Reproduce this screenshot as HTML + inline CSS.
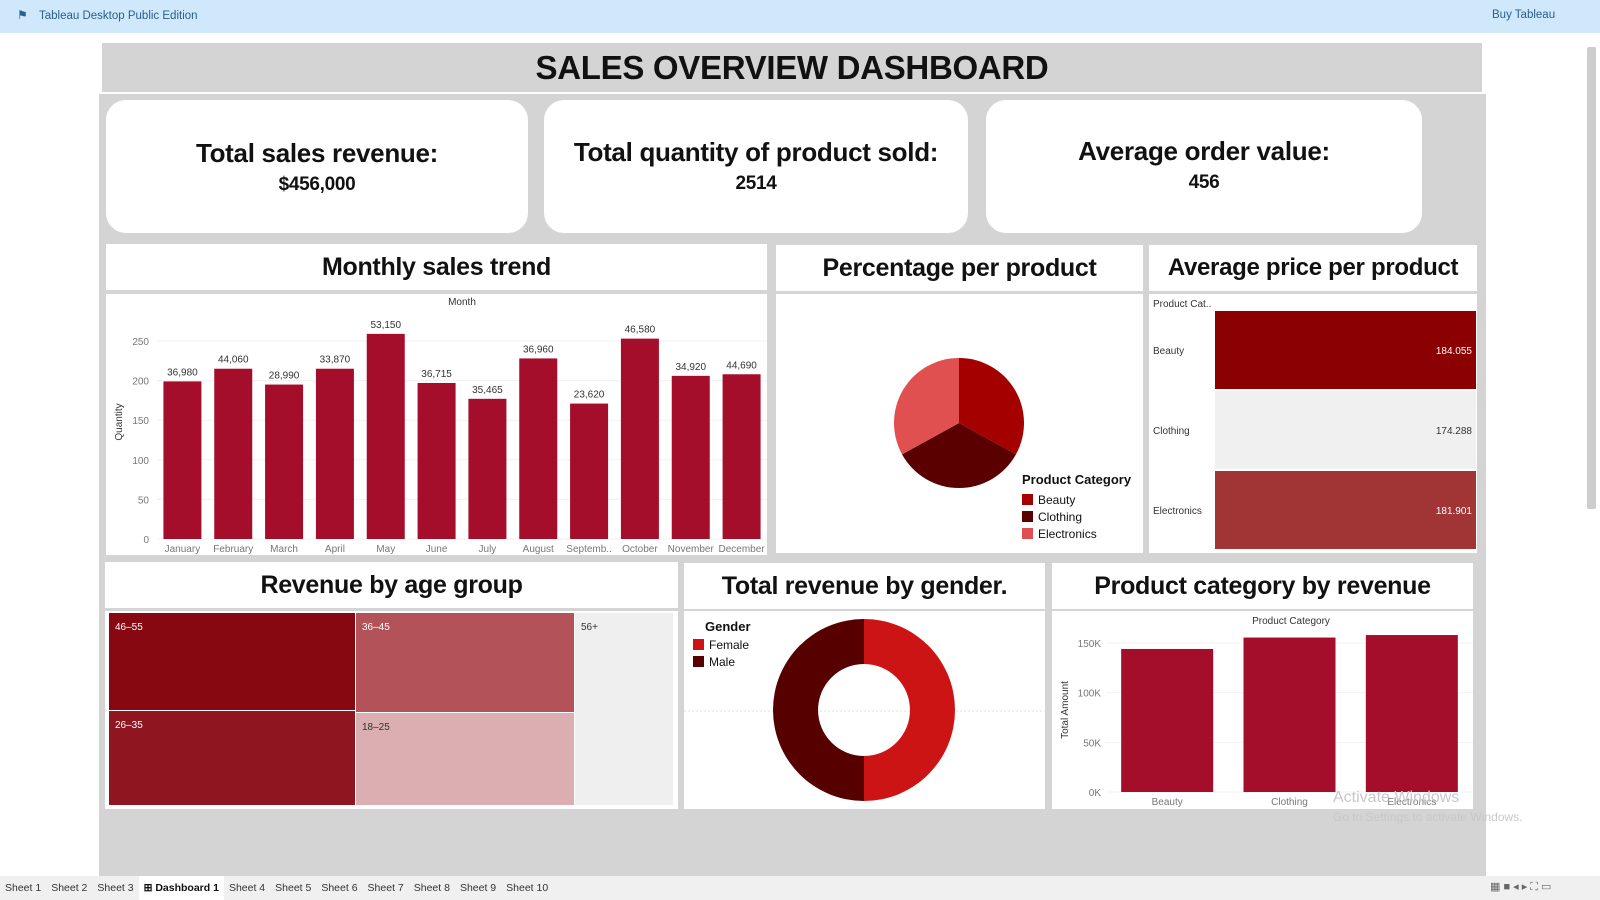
<!DOCTYPE html>
<html><head><meta charset="utf-8">
<style>
*{box-sizing:border-box;margin:0;padding:0}
body{width:1600px;height:900px;overflow:hidden;background:#fff;font-family:"Liberation Sans",sans-serif;position:relative}
.abs{position:absolute}
.title{position:absolute;background:#fff;font-weight:bold;font-size:25px;text-align:center;color:#111;white-space:nowrap;letter-spacing:-0.3px}
.kpi{position:absolute;background:#fff;border-radius:20px;text-align:center;font-weight:bold;color:#111;white-space:nowrap;letter-spacing:-0.3px}
.panel{position:absolute;background:#fff}
.tab{display:inline-block;font-size:10.5px;color:#333;padding:0 5px;line-height:24px}
</style></head><body>
<div class="abs" style="left:0;top:0;width:1600px;height:33px;background:#cfe8fb">
  <span class="abs" style="left:17px;top:8px;font-size:12px;color:#2a5e8c">⚑</span>
  <span class="abs" style="left:39px;top:10px;font-size:11.5px;color:#2a5e8c">Tableau Desktop Public Edition</span>
  <span class="abs" style="left:1492px;top:9px;font-size:11.5px;color:#2a5e8c">Buy Tableau</span>
</div>
<div class="abs" style="left:1583px;top:33px;width:17px;height:843px;background:#fff">
  <div class="abs" style="left:4px;top:14px;width:9px;height:462px;background:#cdcdcd;border-radius:2px"></div>
</div>
<div class="abs" style="left:99px;top:94px;width:1387px;height:782px;background:#d4d4d4"></div>
<div class="abs" style="left:102px;top:43px;width:1380px;height:49px;background:#d4d4d4;font-weight:bold;font-size:33px;text-align:center;line-height:50px;color:#111;letter-spacing:-0.3px">SALES OVERVIEW DASHBOARD</div>

<div class="kpi" style="left:106px;top:100px;width:422px;height:133px"><div style="font-size:26px;margin-top:38px">Total sales revenue:</div><div style="font-size:19px;margin-top:5px">$456,000</div></div>
<div class="kpi" style="left:544px;top:100px;width:424px;height:133px"><div style="font-size:26px;margin-top:37px">Total quantity of product sold:</div><div style="font-size:19px;margin-top:5px">2514</div></div>
<div class="kpi" style="left:986px;top:100px;width:436px;height:133px"><div style="font-size:26px;margin-top:36px">Average order value:</div><div style="font-size:19px;margin-top:5px">456</div></div>

<div class="title" style="left:106px;top:244px;width:661px;height:46px;line-height:46px">Monthly sales trend</div>
<div class="panel" style="left:106px;top:294px;width:661px;height:261px"></div>
<div class="title" style="left:776px;top:245px;width:367px;height:46px;line-height:46px">Percentage per product</div>
<div class="panel" style="left:776px;top:294px;width:367px;height:259px"></div>
<div class="title" style="left:1149px;top:245px;width:328px;height:46px;line-height:46px;font-size:24px">Average price per product</div>
<div class="panel" style="left:1149px;top:294px;width:328px;height:259px"></div>
<div class="title" style="left:105px;top:562px;width:573px;height:46px;line-height:46px">Revenue by age group</div>
<div class="panel" style="left:105px;top:611px;width:573px;height:198px"></div>
<div class="title" style="left:684px;top:563px;width:361px;height:46px;line-height:46px">Total revenue by gender.</div>
<div class="panel" style="left:684px;top:611px;width:361px;height:198px"></div>
<div class="title" style="left:1052px;top:563px;width:421px;height:46px;line-height:46px">Product category by revenue</div>
<div class="panel" style="left:1052px;top:611px;width:421px;height:198px"></div>

<svg id="svg" class="abs" style="left:0;top:0" width="1600" height="900" font-family="Liberation Sans, sans-serif"></svg>

<div class="abs" style="left:1333px;top:789px;color:#c8c8c8;font-size:16px">Activate Windows</div>
<div class="abs" style="left:1333px;top:810px;color:#c8c8c8;font-size:12px">Go to Settings to activate Windows.</div>

<div class="abs" style="left:0;top:876px;width:1600px;height:24px;background:#f0f0f0">
<span class="tab">Sheet 1</span><span class="tab">Sheet 2</span><span class="tab">Sheet 3</span><span class="tab" style="background:#fff;font-weight:bold;color:#111">⊞ Dashboard 1</span><span class="tab">Sheet 4</span><span class="tab">Sheet 5</span><span class="tab">Sheet 6</span><span class="tab">Sheet 7</span><span class="tab">Sheet 8</span><span class="tab">Sheet 9</span><span class="tab">Sheet 10</span>
<span class="abs" style="left:1490px;top:4px;font-size:11px;color:#666">▦ ■ ◂ ▸ ⛶ ▭</span>
</div>

<script>
const months=["January","February","March","April","May","June","July","August","Septemb..","October","November","December"];
const monthQty=[199,215,195,215,259,197,177,228,171,253,206,208];
const monthSales=["36,980","44,060","28,990","33,870","53,150","36,715","35,465","36,960","23,620","46,580","34,920","44,690"];
const qtyTicks=[0,50,100,150,200,250];
const pieCats=["Beauty","Clothing","Electronics"];
const pieShares=[0.33,0.34,0.33];
const pieColors=["#a50000","#5a0000","#e05050"];
const priceCats=["Beauty","Clothing","Electronics"];
const priceVals=[184.055,174.288,181.901];
const ageGroups=["46-55","26-35","36-45","18-25","56+"];
const genders=["Female","Male"];
const genderShares=[0.5,0.5];
const catNames=["Beauty","Clothing","Electronics"];
const catRevenue=[144000,155500,158000];
const revTicks=[0,50000,100000,150000];

const svg=document.getElementById('svg');
const NS='http://www.w3.org/2000/svg';
function mk(tag,attrs,name,txt){const e=document.createElementNS(NS,tag);for(const k in attrs)e.setAttribute(k,attrs[k]);


if(txt!==undefined)e.textContent=txt;svg.appendChild(e);return e;}

// Monthly bar chart
const mX0=157,mX1=767,mY0=539,mY250=341;
const my=v=>mY0-(v/250)*(mY0-mY250);
const slot=(mX1-mX0)/months.length;
mk('text',{x:462,y:305,'font-size':10,'text-anchor':'middle',fill:'#333'},'x-axis-title','Month');
mk('text',{x:122,y:422,'font-size':10,fill:'#333',transform:'rotate(-90 122 422)','text-anchor':'middle'},'y-axis-title','Quantity');
qtyTicks.forEach(t=>{mk('line',{x1:mX0,x2:mX1,y1:my(t),y2:my(t),stroke:'#f0f0f0'},'gridline');
mk('text',{x:149,y:my(t)+4,'font-size':10,'text-anchor':'end',fill:'#777'},'y-tick',String(t));});
months.forEach((m,i)=>{const cx=mX0+slot*(i+0.5);
mk('rect',{x:cx-19,y:my(monthQty[i]),width:38,height:mY0-my(monthQty[i]),fill:'#a50e2a'},'bar-'+i);
mk('text',{x:cx,y:my(monthQty[i])-6,'font-size':10,'text-anchor':'middle',fill:'#333'},'bar-label',monthSales[i]);
mk('text',{x:cx,y:552,'font-size':10,'text-anchor':'middle',fill:'#777'},'x-tick',m);});

// Pie
const pcx=959,pcy=423,pr=65;let a0=0;
pieShares.forEach((s,i)=>{const a1=a0+s*2*Math.PI;
const p=(a)=>[pcx+pr*Math.sin(a),pcy-pr*Math.cos(a)];const[x0,y0]=p(a0),[x1,y1]=p(a1);
mk('path',{d:`M${pcx},${pcy}L${x0},${y0}A${pr},${pr} 0 ${s>0.5?1:0} 1 ${x1},${y1}Z`,fill:pieColors[i]},'pie-slice-'+pieCats[i].toLowerCase());a0=a1;});
mk('text',{x:1022,y:484,'font-size':13,'font-weight':'bold',fill:'#111'},'pie-legend-title','Product Category');
pieCats.forEach((c,i)=>{mk('rect',{x:1022,y:494+i*17,width:11,height:11,fill:pieColors[i]},'pie-legend-swatch');
mk('text',{x:1038,y:504+i*17,'font-size':12,fill:'#111'},'pie-legend-label',c);});

// Avg price rows
mk('text',{x:1153,y:307,'font-size':10,fill:'#333'},'avg-price-header','Product Cat..');
const pmin=Math.min(...priceVals),pmax=Math.max(...priceVals);
const shade=v=>{const t=(v-pmin)/(pmax-pmin);const c0=[240,240,240],c1=[139,0,0];return `rgb(${c0.map((c,j)=>Math.round(c+(c1[j]-c)*t)).join(',')})`;};
priceCats.forEach((c,i)=>{const y=311+i*80;
mk('rect',{x:1215,y:y,width:261,height:78,fill:shade(priceVals[i])},'price-bar-'+c.toLowerCase());
mk('text',{x:1153,y:y+43,'font-size':10,fill:'#333'},'price-row-label',c);
mk('text',{x:1472,y:y+43,'font-size':10,'text-anchor':'end',fill:(priceVals[i]-pmin)/(pmax-pmin)>0.5?'#fff':'#333'},'price-value',priceVals[i].toFixed(3));});

// Treemap
const tm=[[109,613,246,97,'#880812'],[109,711,246,94,'#8f1520'],[356,613,218,99,'#b4525a'],[356,713,218,92,'#dbaeb1'],[575,613,98,192,'#efefef']];
tm.forEach((r,i)=>{mk('rect',{x:r[0],y:r[1],width:r[2],height:r[3],fill:r[4]},'treemap-'+ageGroups[i]);
mk('text',{x:r[0]+6,y:r[1]+17,'font-size':10,fill:i>=3?'#333':'#fff'},'treemap-label',ageGroups[i].replace('-','–'));});

// Donut
const dcx=864,dcy=710,ro=91,ri=46;let b0=0;const gc=['#cc1414','#560000'];
mk('line',{x1:684,x2:1045,y1:711,y2:711,stroke:'#ddd','stroke-dasharray':'2,2'},'ref-line');
genderShares.forEach((s,i)=>{const b1=b0+s*2*Math.PI;const P=(r,a)=>[dcx+r*Math.sin(a),dcy-r*Math.cos(a)];
const[a,b]=P(ro,b0),[c,d]=P(ro,b1),[e,f]=P(ri,b1),[g,h]=P(ri,b0);const lg=s>0.5?1:0;
mk('path',{d:`M${a},${b}A${ro},${ro} 0 ${lg} 1 ${c},${d}L${e},${f}A${ri},${ri} 0 ${lg} 0 ${g},${h}Z`,fill:gc[i]},'donut-'+genders[i].toLowerCase());b0=b1;});
mk('text',{x:705,y:631,'font-size':13,'font-weight':'bold',fill:'#111'},'gender-legend-title','Gender');
genders.forEach((g,i)=>{mk('rect',{x:693,y:639+i*17,width:11,height:11,fill:gc[i]},'gender-swatch');
mk('text',{x:709,y:649+i*17,'font-size':12,fill:'#111'},'gender-legend-label',g);});

// Category revenue
const cY0=792,cY150=643,cy=v=>cY0-(v/150000)*(cY0-cY150);
mk('text',{x:1291,y:624,'font-size':10,'text-anchor':'middle',fill:'#333'},'cat-x-title','Product Category');
mk('text',{x:1068,y:710,'font-size':10,fill:'#333',transform:'rotate(-90 1068 710)','text-anchor':'middle'},'cat-y-title','Total Amount');
revTicks.forEach(t=>{mk('line',{x1:1106,x2:1473,y1:cy(t),y2:cy(t),stroke:'#f2f2f2'},'cat-gridline');
mk('text',{x:1101,y:cy(t)+4,'font-size':10,'text-anchor':'end',fill:'#777'},'cat-y-tick',(t/1000)+'K');});
const cs=(1473-1106)/catNames.length;
catNames.forEach((c,i)=>{const cx=1106+cs*(i+0.5);
mk('rect',{x:cx-46,y:cy(catRevenue[i]),width:92,height:cY0-cy(catRevenue[i]),fill:'#a50e2a'},'cat-bar-'+c.toLowerCase());
mk('text',{x:cx,y:805,'font-size':10,'text-anchor':'middle',fill:'#777'},'cat-x-tick',c);});
</script>
</body></html>
